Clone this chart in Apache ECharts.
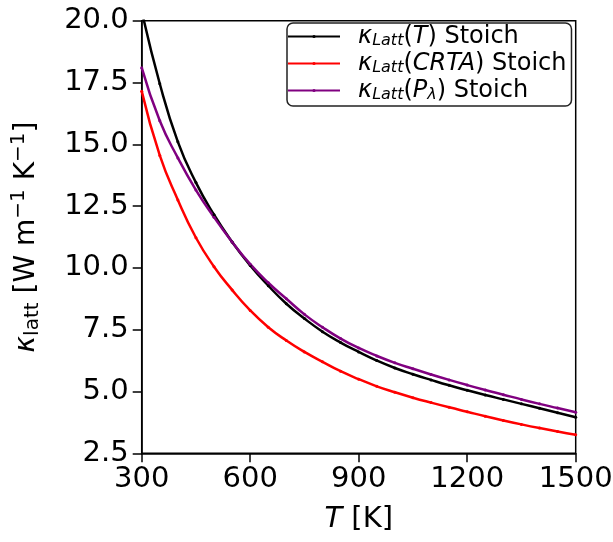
<!DOCTYPE html>
<html>
<head>
<meta charset="utf-8">
<script src="https://cdn.jsdelivr.net/npm/echarts@6/dist/echarts.min.js"></script>
<style>
html,body{margin:0;padding:0;background:#fff;}
#c{width:613px;height:542px;}
</style>
</head>
<body>
<div id="c"></div>
<script>
// Temperatures (K)
var temps = [300,350,400,450,500,550,600,650,700,750,800,850,900,950,1000,1050,1100,1150,1200,1250,1300,1350,1400,1450,1500];
// kappa_Latt(T) Stoich
var kappaT = [20.4,17.45,15.1,13.45,12.15,11.05,10.1,9.28,8.55,7.95,7.42,6.98,6.6,6.25,5.95,5.7,5.47,5.25,5.05,4.86,4.68,4.5,4.32,4.14,3.96];
// kappa_Latt(CRTA) Stoich
var kappaCRTA = [17.15,14.55,12.75,11.22,10.05,9.11,8.28,7.6,7.06,6.6,6.2,5.82,5.5,5.21,4.97,4.75,4.55,4.36,4.18,4.0,3.83,3.67,3.52,3.38,3.25];
// kappa_Latt(P_lambda) Stoich
var kappaP = [18.1,15.95,14.45,13.15,12.05,11.05,10.15,9.4,8.75,8.12,7.6,7.14,6.76,6.44,6.16,5.92,5.69,5.47,5.26,5.06,4.87,4.68,4.5,4.33,4.16];
var xTicks = [300,600,900,1200,1500];
var yTicks = [2.5,5.0,7.5,10.0,12.5,15.0,17.5,20.0];

var FONT = 'DejaVu Sans';
function pairs(xs, ys){ return xs.map(function(x,i){ return [x, ys[i]]; }); }

var chart = echarts.init(document.getElementById('c'), null, {renderer:'canvas'});

var LF = 24;
var legendRich = {
  sp:{width:13, fontSize:LF, lineHeight:24, fontFamily:FONT},
  g:{fontSize:LF, fontStyle:'italic', fontFamily:FONT, color:'#000', lineHeight:24},
  s:{fontSize:16, fontStyle:'italic', fontFamily:FONT, color:'#000', lineHeight:24, padding:[9,0,0,0]},
  i:{fontSize:LF, fontStyle:'italic', fontFamily:FONT, color:'#000', lineHeight:24},
  n:{fontSize:LF, fontFamily:FONT, color:'#000', lineHeight:24}
};
var legendLabels = {
  'T': '{sp|}{g|κ}{s|Latt}{n|(}{i|T}{n|) Stoich}',
  'CRTA': '{sp|}{g|κ}{s|Latt}{n|(}{i|CRTA}{n|) Stoich}',
  'P': '{sp|}{g|κ}{s|Latt}{n|(}{i|P}{s|λ}{n|) Stoich}'
};

function mkSeries(name, data, color){
  return {
    name: name, type:'line', data: pairs(temps, data),
    smooth: true, showSymbol: true, symbol:'circle', symbolSize:3,
    lineStyle:{color:color, width:2.5}, itemStyle:{color:color},
    clip:true, z:2
  };
}

chart.setOption({
  animation:false,
  backgroundColor:'#fff',
  grid:{left:141.7, right:37.3, top:20.7, bottom:88.7, show:true, borderColor:'#000', borderWidth:1.5,
        backgroundColor:'transparent', containLabel:false, outerBoundsMode:'none'},
  legend:{
    orient:'vertical', left:287, top:23,
    data:['T','CRTA','P'],
    itemWidth:52, itemHeight:4, itemGap:2,
    padding:[1,5,3,0],
    backgroundColor:'#fff', borderColor:'#222', borderWidth:1.5, borderRadius:6,
    formatter:function(n){ return legendLabels[n]; },
    textStyle:{fontFamily:FONT, fontSize:LF, color:'#000', rich:legendRich},
    z:10
  },
  xAxis:{
    type:'value', min:300, max:1500, interval:300,
    name:'{i|T}{n| [K]}', nameLocation:'middle', nameGap:52,
    nameTextStyle:{rich:{i:{fontSize:29, fontStyle:'italic', fontFamily:FONT, color:'#000'}, n:{fontSize:29, fontFamily:FONT, color:'#000'}}},
    axisLine:{show:true, lineStyle:{color:'#000', width:1.5}},
    axisTick:{show:true, inside:false, length:9, lineStyle:{color:'#000', width:1.5}},
    axisLabel:{fontSize:29, fontFamily:FONT, color:'#000', margin:12, hideOverlap:false,
      formatter:function(v){ return xTicks.indexOf(v) >= 0 ? String(v) : ''; }},
    splitLine:{show:false}
  },
  yAxis:{
    type:'value', min:2.5, max:20, interval:2.5,
    name:'{g|κ}{s|latt}{n| [W m}{sup|−1}{n| K}{sup|−1}{n|]}', nameLocation:'middle', nameGap:97,
    nameTextStyle:{rich:{
      g:{fontSize:28, fontStyle:'italic', fontFamily:FONT, color:'#000'},
      s:{fontSize:20, fontFamily:FONT, color:'#000', padding:[12,0,0,0]},
      n:{fontSize:28, fontFamily:FONT, color:'#000'},
      sup:{fontSize:20, fontFamily:FONT, color:'#000', padding:[0,0,16,0]}
    }},
    axisLine:{show:true, lineStyle:{color:'#000', width:1.5}},
    axisTick:{show:true, inside:false, length:9, lineStyle:{color:'#000', width:1.5}},
    axisLabel:{fontSize:29, fontFamily:FONT, color:'#000', margin:13,
      formatter:function(v){ return yTicks.indexOf(v) >= 0 ? v.toFixed(1) : ''; }},
    splitLine:{show:false}
  },
  series:[
    mkSeries('T', kappaT, '#000000'),
    mkSeries('CRTA', kappaCRTA, '#ff0000'),
    mkSeries('P', kappaP, '#800080')
  ]
});
</script>
</body>
</html>
